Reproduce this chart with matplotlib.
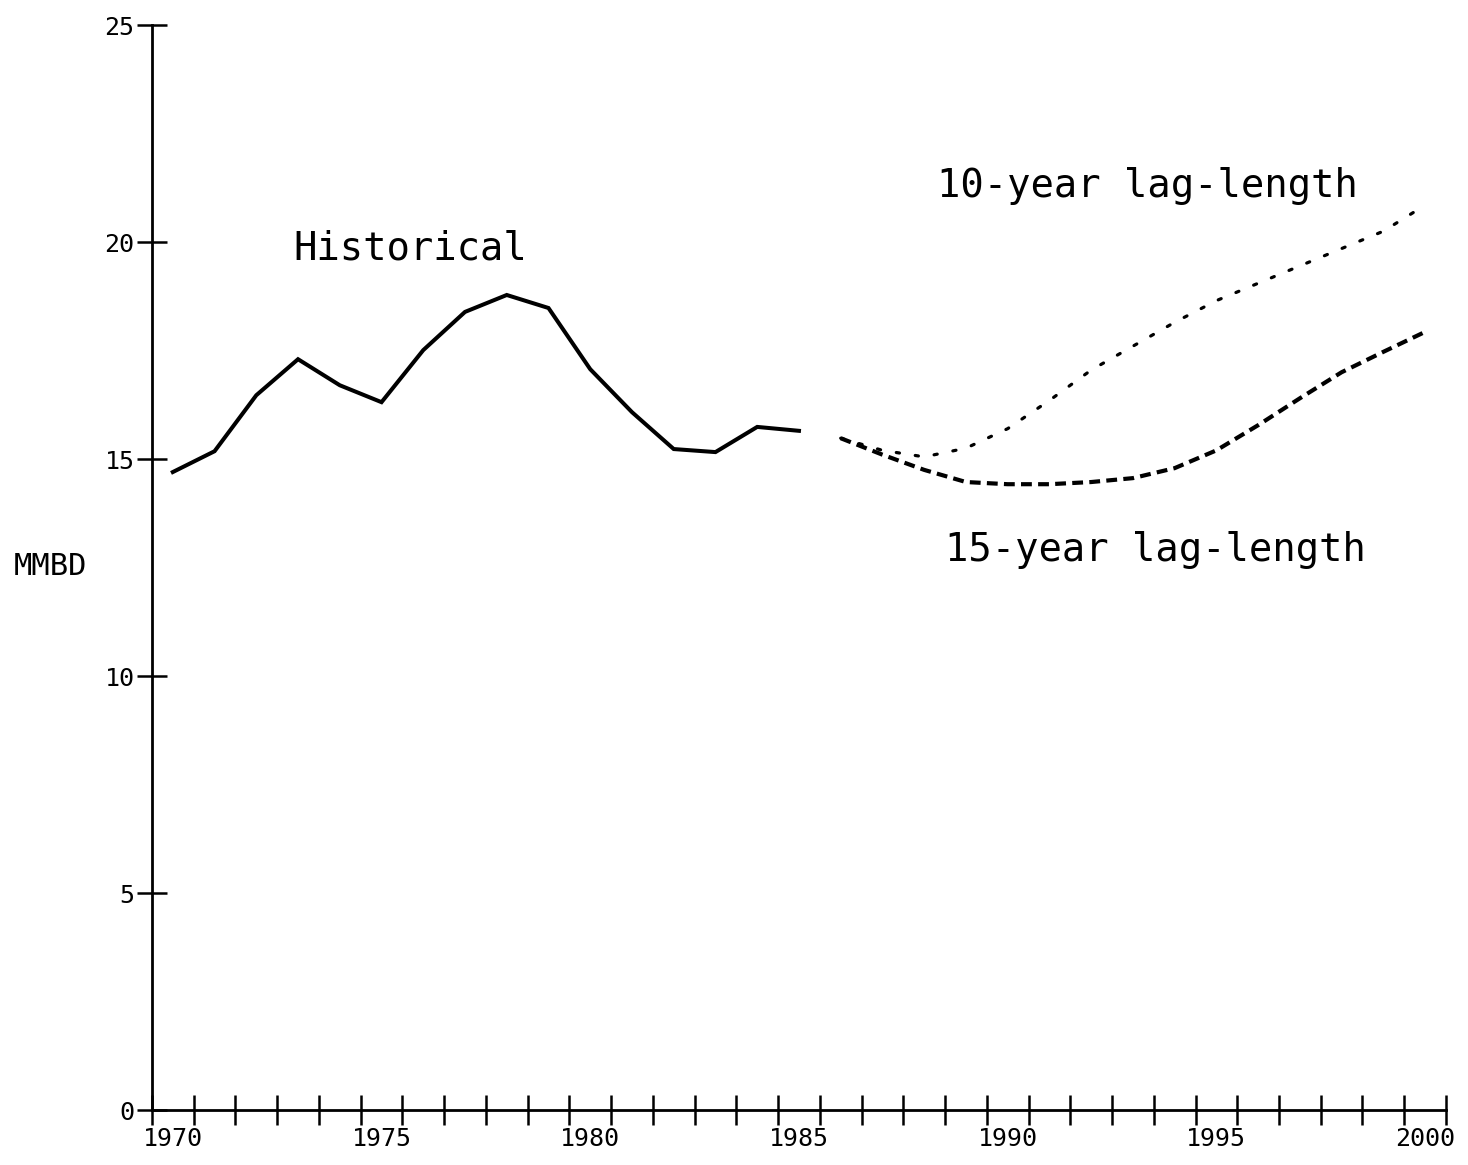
import matplotlib.pyplot as plt
import numpy as np

# historical oil series, 1970-1985
hist_years = list(range(1970, 1986))
hist_vals = [14.70, 15.18, 16.47, 17.30, 16.70, 16.31, 17.51, 18.39,
             18.78, 18.48, 17.07, 16.08, 15.23, 15.16, 15.74, 15.65]

# projections, 1986-2000
proj_years = list(range(1986, 2001))
lag10_vals = [15.48, 15.20, 15.05, 15.25, 15.70, 16.35, 17.05, 17.60,
              18.15, 18.65, 19.05, 19.45, 19.85, 20.25, 20.85]
lag15_vals = [15.48, 15.10, 14.75, 14.47, 14.42, 14.42, 14.47, 14.56,
              14.79, 15.20, 15.78, 16.40, 17.00, 17.47, 17.93]

label_years = [1970, 1975, 1980, 1985, 1990, 1995, 2000]
y_ticks = [0, 5, 10, 15, 20, 25]

FONT = 'DejaVu Sans Mono'

fig = plt.figure(figsize=(14.68, 11.65), dpi=100)
ax = fig.add_axes([0.1035, 0.0472, 0.8815, 0.9313])

ax.plot(hist_years, hist_vals, color='black', lw=2.9, solid_joinstyle='miter')
ax.plot(proj_years, lag10_vals, color='black', lw=2.3, linestyle=(0, (1, 5)),
        dash_capstyle='round')
ax.plot(proj_years, lag15_vals, color='black', lw=3.0, linestyle=(0, (2.6, 1.5)))

ax.set_xlim(1969.5, 2000.5)
ax.set_ylim(0, 25)

for s in ['top', 'right']:
    ax.spines[s].set_visible(False)
for s in ['left', 'bottom']:
    ax.spines[s].set_linewidth(2)

ax.set_xticks(label_years)
ax.set_xticklabels([str(y) for y in label_years], fontfamily=FONT, fontsize=18)
ax.set_xticks(np.arange(1969.5, 2001, 1.0), minor=True)
ax.tick_params(axis='x', which='major', length=0, pad=12)
ax.tick_params(axis='x', which='minor', direction='inout', length=21, width=1.8)

ax.set_yticks(y_ticks)
ax.set_yticklabels([str(v) for v in y_ticks], fontfamily=FONT, fontsize=18)
ax.tick_params(axis='y', direction='inout', length=21, width=1.8, pad=2)

ax.text(1972.9, 19.85, 'Historical', fontfamily=FONT, fontsize=28, va='center')
ax.text(1988.3, 21.3, '10-year lag-length', fontfamily=FONT, fontsize=28, va='center')
ax.text(1988.5, 12.9, '15-year lag-length', fontfamily=FONT, fontsize=28, va='center')

fig.text(50 / 1468, 1 - 567 / 1165, 'MMBD', fontfamily=FONT, fontsize=22,
         ha='center', va='center')

fig.savefig('out.png', dpi=100)
